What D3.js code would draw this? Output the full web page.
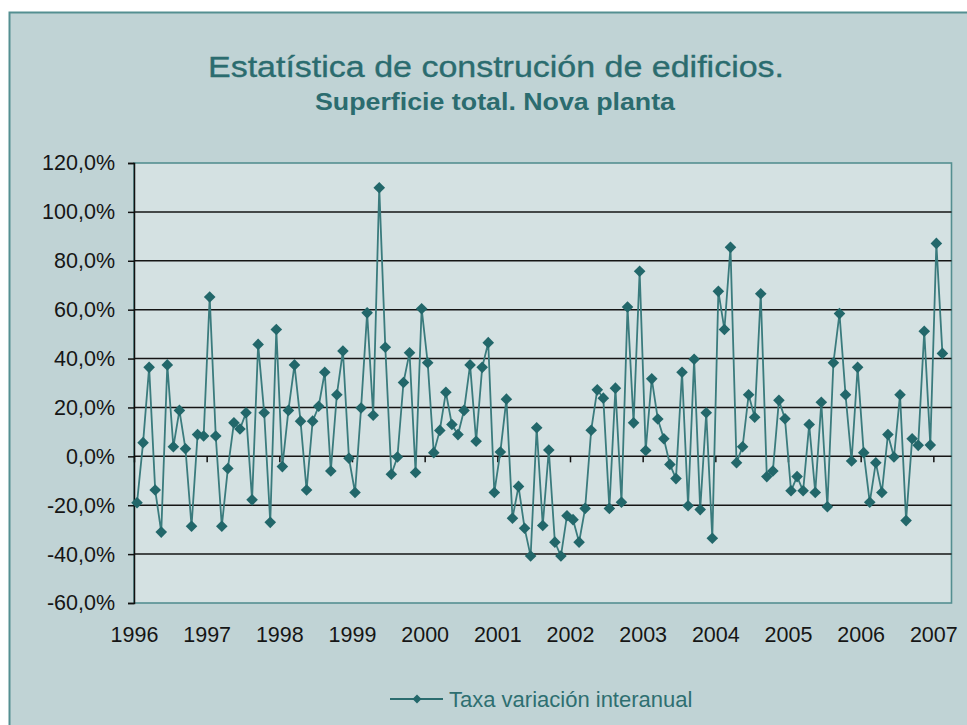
<!DOCTYPE html>
<html><head><meta charset="utf-8">
<script src="https://cdn.jsdelivr.net/npm/d3@7"></script>
<style>
html,body{margin:0;padding:0;background:#fff;}
svg{display:block;}
text{font-family:"Liberation Sans",Arial,sans-serif;}
</style></head>
<body>
<svg id="chart" width="967" height="725"></svg>
<script>
// ---- data ----
const title = "Estatística de construción de edificios.";
const subtitle = "Superficie total. Nova planta";
const seriesName = "Taxa variación interanual";
const yearLabels = ["1996","1997","1998","1999","2000","2001","2002","2003","2004","2005","2006","2007"];
const monthCount = 135; // Jan 1996 .. Mar 2007 (categories)
const yTicks = [-60,-40,-20,0,20,40,60,80,100,120];
// monthly year-on-year variation (%), Jan 1996 onwards
const values = [
 -19.0, 5.6, 36.4, -13.8, -31.0, 37.4, 3.9, 18.8, 3.1, -28.6, 8.9, 8.3,
 65.2, 8.3, -28.6, -5.0, 13.7, 11.2, 17.8, -17.8, 45.8, 17.8, -27.0, 51.9,
 -4.2, 18.8, 37.4, 14.4, -13.8, 14.4, 20.5, 34.4, -6.0, 25.2, 43.1, -0.8,
 -14.8, 19.8, 58.7, 16.8, 109.9, 44.6, -7.3, -0.3, 30.2, 42.4, -6.6, 60.4,
 38.3, 1.5, 10.6, 26.2, 13.0, 8.9, 18.8, 37.4, 6.2, 36.4, 46.5, -14.8,
 1.8, 23.4, -25.3, -12.3, -29.4, -40.8, 11.7, -28.3, 2.6, -35.1, -40.8, -24.3,
 -25.9, -35.1, -21.3, 10.7, 27.2, 23.8, -21.3, 27.9, -18.8, 61.1, 13.7, 75.7,
 2.4, 31.7, 15.3, 7.2, -3.3, -9.1, 34.4, -20.2, 39.7, -21.8, 17.8, -33.5,
 67.5, 51.9, 85.5, -2.6, 3.9, 25.2, 16.0, 66.5, -8.3, -6.0, 22.9, 15.4,
 -14.1, -8.3, -14.1, 13.0, -14.8, 22.1, -20.6, 38.3, 58.4, 25.2, -1.9, 36.4,
 1.5, -18.8, -2.6, -14.8, 8.9, -0.3, 25.2, -26.3, 7.2, 4.5, 51.2, 4.6,
 87.1, 42.1
];

// ---- layout ----
const svg = d3.select("#chart");
const plot = {left:134, right:951.5, top:163, bottom:603};
const teal = "#2b6c6f";
const frameCol = "#548f91";

// outer chart area
svg.append("rect").attr("x",9.5).attr("y",12.5).attr("width",980).attr("height",740)
  .attr("fill","#c0d3d5").attr("stroke",frameCol).attr("stroke-width",2);

const x = d3.scaleLinear().domain([0, monthCount]).range([plot.left, plot.right]);
const y = d3.scaleLinear().domain([-60, 120]).range([plot.bottom, plot.top]);

// plot area
svg.append("rect").attr("x",plot.left).attr("y",plot.top)
  .attr("width",plot.right-plot.left).attr("height",plot.bottom-plot.top)
  .attr("fill","#d4e1e2").attr("stroke",frameCol).attr("stroke-width",1.6);

// gridlines
svg.append("g").selectAll("line").data(yTicks.filter(d=>d>-60 && d<120)).join("line")
  .attr("x1",plot.left).attr("x2",plot.right)
  .attr("y1",d=>y(d)).attr("y2",d=>y(d))
  .attr("stroke","#151515").attr("stroke-width",1.5);

// y axis
const yAxis = svg.append("g").attr("transform",`translate(${plot.left},0)`)
  .call(d3.axisLeft(y).tickValues(yTicks).tickSize(6).tickPadding(13)
    .tickFormat(d=>d.toFixed(1).replace(".",",")+"%"));
yAxis.select(".domain").attr("stroke","#111").attr("stroke-width",1.5);
yAxis.selectAll(".tick line").attr("stroke","#111").attr("stroke-width",1.5);
yAxis.selectAll("text").attr("font-size",21.5).attr("fill","#161616");

// x axis tick marks on the 0 line
const yearIdx = yearLabels.map((_,k)=>k*12);
const xTicks = svg.append("g").attr("transform",`translate(0,${y(0)})`)
  .call(d3.axisBottom(x).tickValues(yearIdx).tickSize(6).tickFormat(""));
xTicks.select(".domain").remove();
xTicks.selectAll(".tick line").attr("stroke","#111").attr("stroke-width",1.5);

// x axis labels at bottom
const xLab = svg.append("g").attr("transform",`translate(0,${plot.bottom})`)
  .call(d3.axisBottom(x).tickValues(yearIdx).tickSize(0).tickPadding(24)
    .tickFormat((d,i)=>yearLabels[i]));
xLab.select(".domain").remove();
xLab.selectAll("text").attr("font-size",21.5).attr("fill","#161616");

// series line
const line = d3.line().x((d,i)=>x(i+0.5)).y(d=>y(d));
svg.append("path").datum(values).attr("d",line)
  .attr("fill","none").attr("stroke","#3a7b7d").attr("stroke-width",1.8);

// diamond markers
const diamond = s => `M0,${-s}L${s},0L0,${s}L${-s},0Z`;
svg.append("g").selectAll("path").data(values).join("path")
  .attr("transform",(d,i)=>`translate(${x(i+0.5)},${y(d)})`)
  .attr("d",diamond(5.8)).attr("fill","#22676a");

// titles
svg.append("text").attr("x",496).attr("y",77).attr("text-anchor","middle")
  .attr("font-size",30).attr("fill",teal).attr("stroke",teal).attr("stroke-width",0.35)
  .attr("textLength",576).attr("lengthAdjust","spacingAndGlyphs").text(title);
svg.append("text").attr("x",495).attr("y",110).attr("text-anchor","middle")
  .attr("font-size",23).attr("font-weight","bold").attr("fill",teal)
  .attr("textLength",360).attr("lengthAdjust","spacingAndGlyphs").text(subtitle);

// legend
const lg = svg.append("g");
lg.append("line").attr("x1",390).attr("x2",443).attr("y1",699).attr("y2",699)
  .attr("stroke",teal).attr("stroke-width",2);
lg.append("path").attr("transform","translate(417,699)").attr("d",diamond(4.5)).attr("fill","#22676a");
lg.append("text").attr("x",449).attr("y",707).attr("font-size",22).attr("fill","#2e6f71").text(seriesName);
</script>
</body></html>
